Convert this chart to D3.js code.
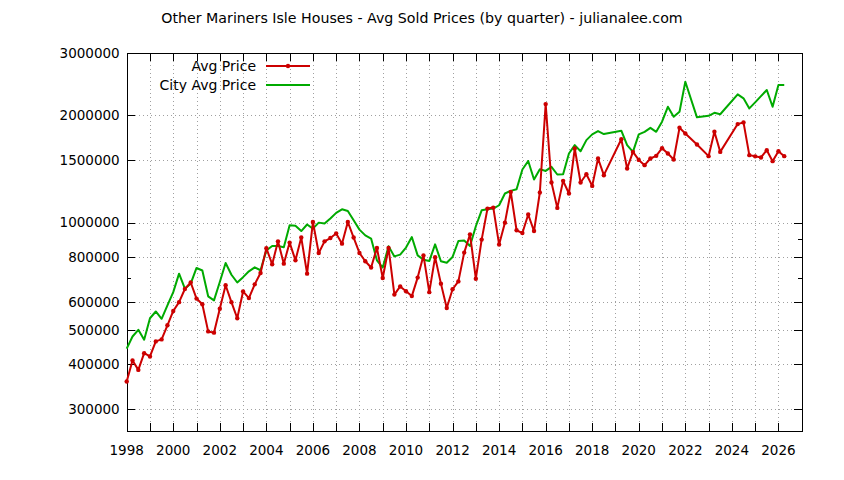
<!doctype html>
<html>
<head>
<meta charset="utf-8">
<title>Other Mariners Isle Houses</title>
<style>
  body { margin: 0; background: #fff; }
  svg { display: block; font-family: "DejaVu Sans", sans-serif; }
</style>
</head>
<body>
<div id="here"></div>
<script src="https://d3js.org/d3.v7.min.js"></script>
<script>
// quarters (year + fraction); some quarters have no sales and are skipped
var quarters = [
  1998.0, 1998.25, 1998.5, 1998.75, 1999.0, 1999.25, 1999.5, 1999.75,
  2000.0, 2000.25, 2000.5, 2000.75, 2001.0, 2001.25, 2001.5, 2001.75,
  2002.0, 2002.25, 2002.5, 2002.75, 2003.0, 2003.25, 2003.5, 2003.75,
  2004.0, 2004.25, 2004.5, 2004.75, 2005.0, 2005.25, 2005.5, 2005.75,
  2006.0, 2006.25, 2006.5, 2006.75, 2007.0, 2007.25, 2007.5, 2007.75,
  2008.0, 2008.25, 2008.5, 2008.75, 2009.0, 2009.25, 2009.5, 2009.75,
  2010.0, 2010.25, 2010.5, 2010.75, 2011.0, 2011.25, 2011.5, 2011.75,
  2012.0, 2012.25, 2012.5, 2012.75, 2013.0, 2013.25, 2013.5, 2013.75,
  2014.0, 2014.25, 2014.5, 2014.75, 2015.0, 2015.25, 2015.5, 2015.75,
  2016.0, 2016.25, 2016.5, 2016.75, 2017.0, 2017.25, 2017.5, 2017.75,
  2018.0, 2018.25, 2018.5,
  2019.25, 2019.5, 2019.75,
  2020.0, 2020.25, 2020.5, 2020.75, 2021.0, 2021.25, 2021.5, 2021.75,
  2022.0, 2022.5,
  2023.0, 2023.25, 2023.5,
  2024.25, 2024.5, 2024.75,
  2025.0, 2025.25, 2025.5, 2025.75, 2026.0, 2026.25
];

// Avg Price (thousands of $)
var avgPrice = [
  358, 410, 386, 430, 421, 464, 470, 515,
  565, 598, 651, 679, 612, 590, 495, 491,
  573, 667, 598, 539, 641, 614, 671, 722,
  848, 764, 886, 767, 879, 784, 908, 719,
  1004, 822, 886, 905, 932, 873, 1004, 908,
  822, 779, 748, 849, 699, 849, 628, 662,
  642, 622, 701, 809, 638, 800, 674, 576,
  650, 684, 824, 927, 696, 896, 1095, 1102,
  868, 1000, 1220, 952, 935, 1054, 947, 1215,
  2152, 1296, 1100, 1310, 1207, 1615, 1296, 1367,
  1268, 1514, 1359,
  1715, 1419, 1580,
  1500, 1450, 1514, 1540, 1618, 1564, 1504, 1846,
  1780, 1658,
  1537, 1799, 1580,
  1891, 1912, 1547,
  1535, 1524, 1597, 1488, 1587, 1537
];

// City Avg Price (thousands of $)
var cityAvg = [
  443, 479, 500, 469, 539, 563, 537, 586,
  638, 719, 653, 674, 746, 734, 621, 605,
  681, 770, 714, 679, 703, 730, 749, 735,
  835, 860, 860, 853, 983, 980, 947, 988,
  962, 1000, 994, 1027, 1065, 1090, 1078, 1015,
  956, 921, 902, 784, 748, 858, 804, 813,
  851, 911, 809, 787, 780, 869, 779, 772,
  801, 888, 891, 860, 977, 1083, 1090, 1095,
  1119, 1207, 1228, 1241, 1410, 1490, 1321, 1413,
  1397, 1434, 1365, 1367, 1564, 1650, 1587, 1705,
  1769, 1807, 1773,
  1812, 1650, 1580,
  1769, 1799, 1846, 1799, 1920, 2115, 1982, 2047,
  2486, 1975,
  1995, 2034, 2015,
  2291, 2233, 2093,
  2176, 2266, 2357, 2115, 2434, 2434
];

var yTicks = [300000, 400000, 500000, 600000, 800000, 1000000, 1500000, 2000000, 3000000];
var yMinorTicks = [700000, 900000];
var xTickYears = d3.range(1998, 2028);
var xLabelYears = d3.range(1998, 2027, 2);

var seriesNames = ["Avg Price", "City Avg Price"];
var seriesColors = ["#cc0000", "#00aa00"];

var w = 844, h = 480;
var plotL = 126.7, plotR = 801.7, plotT = 52.7, plotB = 431;

var x = d3.scaleLinear().domain([1998, 2027]).range([plotL, plotR]);
var y = d3.scaleLog().domain([260000, 3000000]).range([plotB, plotT]);

var svg = d3.select("#here").append("svg")
  .attr("width", w)
  .attr("height", h)
  .style("background", "#ffffff");

// grid
var grid = svg.append("g")
  .attr("stroke", "#a0a0a0")
  .attr("stroke-width", 1)
  .attr("stroke-dasharray", "1,3")
  .attr("shape-rendering", "crispEdges");

grid.selectAll(".gx").data(xTickYears.slice(1, -1)).enter().append("line")
  .attr("x1", function(d) { return Math.round(x(d)) + 0.5; })
  .attr("x2", function(d) { return Math.round(x(d)) + 0.5; })
  .attr("y1", plotT).attr("y2", plotB);

grid.selectAll(".gy").data(yTicks.slice(0, -1)).enter().append("line")
  .attr("x1", plotL).attr("x2", plotR)
  .attr("y1", function(d) { return Math.round(y(d)) + 0.5; })
  .attr("y2", function(d) { return Math.round(y(d)) + 0.5; });

// ticks (inward, mirrored like gnuplot)
var ticks = svg.append("g").attr("stroke", "#000").attr("stroke-width", 1)
  .attr("shape-rendering", "crispEdges");

xTickYears.forEach(function(d) {
  var px = Math.round(x(d)) + 0.5;
  ticks.append("line").attr("x1", px).attr("x2", px).attr("y1", plotB).attr("y2", plotB - 8);
  ticks.append("line").attr("x1", px).attr("x2", px).attr("y1", plotT).attr("y2", plotT + 8);
});
yTicks.forEach(function(d) {
  var py = Math.round(y(d)) + 0.5;
  ticks.append("line").attr("x1", plotL).attr("x2", plotL + 8).attr("y1", py).attr("y2", py);
  ticks.append("line").attr("x1", plotR).attr("x2", plotR - 8).attr("y1", py).attr("y2", py);
});
yMinorTicks.forEach(function(d) {
  var py = Math.round(y(d)) + 0.5;
  ticks.append("line").attr("x1", plotL).attr("x2", plotL + 4).attr("y1", py).attr("y2", py);
  ticks.append("line").attr("x1", plotR).attr("x2", plotR - 4).attr("y1", py).attr("y2", py);
});

// border
svg.append("rect")
  .attr("x", Math.round(plotL) + 0.5).attr("y", Math.round(plotT) + 0.5)
  .attr("width", Math.round(plotR) - Math.round(plotL))
  .attr("height", Math.round(plotB) - Math.round(plotT))
  .attr("fill", "none").attr("stroke", "#000").attr("stroke-width", 1)
  .attr("shape-rendering", "crispEdges");

// tick labels
svg.append("g").selectAll("text").data(yTicks).enter().append("text")
  .attr("x", plotL - 7)
  .attr("y", function(d) { return y(d); })
  .attr("dy", "0.36em")
  .attr("text-anchor", "end")
  .style("font-size", "13.5px")
  .text(function(d) { return d; });

svg.append("g").selectAll("text").data(xLabelYears).enter().append("text")
  .attr("x", function(d) { return x(d); })
  .attr("y", plotB + 24)
  .attr("text-anchor", "middle")
  .style("font-size", "13.5px")
  .text(function(d) { return d; });

// title
svg.append("text")
  .attr("x", 422).attr("y", 23)
  .attr("text-anchor", "middle")
  .style("font-size", "14.2px")
  .text("Other Mariners Isle Houses - Avg Sold Prices (by quarter) - julianalee.com");

// lines
var line = d3.line()
  .x(function(d) { return x(d[0]); })
  .y(function(d) { return y(d[1] * 1000); });

var avgData = quarters.map(function(q, i) { return [q, avgPrice[i]]; });
var cityData = quarters.map(function(q, i) { return [q, cityAvg[i]]; });

svg.append("path").datum(cityData)
  .attr("d", line)
  .attr("fill", "none")
  .attr("stroke", seriesColors[1])
  .attr("stroke-width", 2)
  .attr("stroke-linejoin", "round");

svg.append("path").datum(avgData)
  .attr("d", line)
  .attr("fill", "none")
  .attr("stroke", seriesColors[0])
  .attr("stroke-width", 2)
  .attr("stroke-linejoin", "round");

svg.append("g").selectAll("circle").data(avgData).enter().append("circle")
  .attr("cx", function(d) { return x(d[0]); })
  .attr("cy", function(d) { return y(d[1] * 1000); })
  .attr("r", 2.2)
  .attr("fill", seriesColors[0]);

// legend
var leg = svg.append("g");
seriesNames.forEach(function(name, i) {
  var ly = 66 + i * 19;
  leg.append("text")
    .attr("x", 256).attr("y", ly)
    .attr("dy", "0.36em")
    .attr("text-anchor", "end")
    .style("font-size", "14px")
    .text(name);
  leg.append("line")
    .attr("x1", 266).attr("x2", 310)
    .attr("y1", ly).attr("y2", ly)
    .attr("stroke", seriesColors[i])
    .attr("stroke-width", 2);
  if (i === 0) {
    leg.append("circle").attr("cx", 288).attr("cy", ly).attr("r", 2.2).attr("fill", seriesColors[0]);
  }
});
</script>
</body>
</html>
